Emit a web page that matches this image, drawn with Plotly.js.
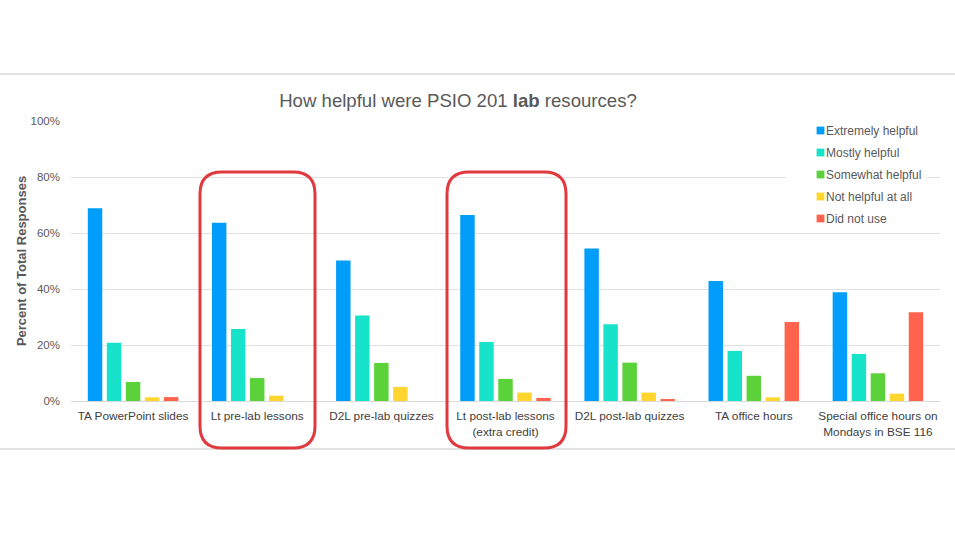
<!DOCTYPE html>
<html>
<head>
<meta charset="utf-8">
<script src="https://cdn.plot.ly/plotly-3.0.1.min.js"></script>
<style>
html,body{margin:0;padding:0;background:#fff;}
#chart{width:955px;height:536px;}
#chart .legendpoints path{transform:translate(34.5px,0px) scale(0.65);}
</style>
</head>
<body>
<div id="chart"></div>
<script>
const categories = [
  "TA PowerPoint slides",
  "Lt pre-lab lessons",
  "D2L pre-lab quizzes",
  "Lt post-lab lessons<br>(extra credit)",
  "D2L post-lab quizzes",
  "TA office hours",
  "Special office hours on<br>Mondays in BSE 116"
];
const seriesNames = ["Extremely helpful", "Mostly helpful", "Somewhat helpful", "Not helpful at all", "Did not use"];
const extremelyHelpful = [68.8, 63.7, 50.2, 66.4, 54.5, 42.9, 38.8];
const mostlyHelpful    = [20.8, 25.7, 30.5, 21.1, 27.4, 17.9, 16.8];
const somewhatHelpful  = [6.8, 8.2, 13.6, 7.9, 13.7, 9.0, 9.9];
const notHelpfulAtAll  = [1.3, 1.9, 5.0, 3.0, 3.0, 1.3, 2.6];
const didNotUse        = [1.4, 0, 0, 1.1, 0.7, 28.2, 31.7];
const yTickValues = [0, 20, 40, 60, 80, 100];
const yTickLabels = ["0%", "20%", "40%", "60%", "80%", "100%"];

const seriesValues = [extremelyHelpful, mostlyHelpful, somewhatHelpful, notHelpfulAtAll, didNotUse];
const colors = ["#009EFA", "#17E3CB", "#5BD13A", "#FFD52E", "#FF634D"];

const W = 955, H = 536;
const M = {l: 71, r: 15, t: 121, b: 135};
const pw = W - M.l - M.r, ph = H - M.t - M.b;
const px = x => (x - M.l) / pw;
const py = y => (H - M.b - y) / ph;

function roundedBox(x0, x1, y0, y1, r) {
  const L = px(x0), R = px(x1), T = py(y0), B = py(y1);
  const rx = r / pw, ry = r / ph;
  return `M${L+rx},${T} L${R-rx},${T} Q${R},${T} ${R},${T-ry} L${R},${B+ry} Q${R},${B} ${R-rx},${B} ` +
         `L${L+rx},${B} Q${L},${B} ${L},${B+ry} L${L},${T-ry} Q${L},${T} ${L+rx},${T} Z`;
}

const traces = seriesNames.map((name, i) => ({
  type: "bar",
  name: name,
  x: categories,
  y: seriesValues[i],
  marker: {color: colors[i]},
  legendgroup: "g" + i,
  hoverinfo: "skip"
}));

const font = "Liberation Sans, Arial, sans-serif";
const layout = {
  width: W, height: H,
  margin: M,
  paper_bgcolor: "#fff",
  plot_bgcolor: "#fff",
  barmode: "group",
  bargap: 0.234,
  bargroupgap: 0.24,
  font: {family: font, color: "#595959", size: 12},
  title: {
    text: "How helpful were PSIO 201 <b>lab</b> resources?",
    font: {family: font, size: 18.6, color: "#595959"},
    xref: "paper", x: px(458), xanchor: "center",
    yref: "container", y: 1 - 100 / H, yanchor: "middle"
  },
  xaxis: {
    type: "category",
    tickfont: {family: font, size: 11.8, color: "#404040"},
    showgrid: false,
    showline: true, linecolor: "#d9d9d9", linewidth: 1,
    ticks: "",
    ticklabelstandoff: 4
  },
  yaxis: {
    range: [0, 100],
    tickmode: "array",
    tickvals: yTickValues,
    ticktext: yTickLabels,
    tickfont: {family: font, size: 11.5, color: "#595959"},
    gridcolor: "#e0e0e0",
    zeroline: false,
    showline: false,
    ticks: "",
    ticklabelstandoff: 10,
    title: {
      text: "<b>Percent of Total Responses</b>",
      font: {family: font, size: 13, color: "#595959"},
      standoff: 1
    }
  },
  legend: {
    x: px(786), xanchor: "left",
    y: py(116), yanchor: "top",
    bgcolor: "#fff",
    font: {family: font, size: 12, color: "#595959"},
    tracegroupgap: 3,
    itemwidth: 30
  },
  shapes: [
    {type: "line", xref: "paper", yref: "paper", x0: px(0), x1: px(W), y0: py(74), y1: py(74),
     line: {color: "#d9d9d9", width: 1.5}},
    {type: "line", xref: "paper", yref: "paper", x0: px(0), x1: px(W), y0: py(449), y1: py(449),
     line: {color: "#d9d9d9", width: 1.5}},
    {type: "path", xref: "paper", yref: "paper", path: roundedBox(200, 315, 172, 448, 22),
     line: {color: "#E0393E", width: 3}},
    {type: "path", xref: "paper", yref: "paper", path: roundedBox(447, 566, 172, 448, 22),
     line: {color: "#E0393E", width: 3}}
  ]
};

Plotly.newPlot("chart", traces, layout, {displayModeBar: false, staticPlot: true});
</script>
</body>
</html>
